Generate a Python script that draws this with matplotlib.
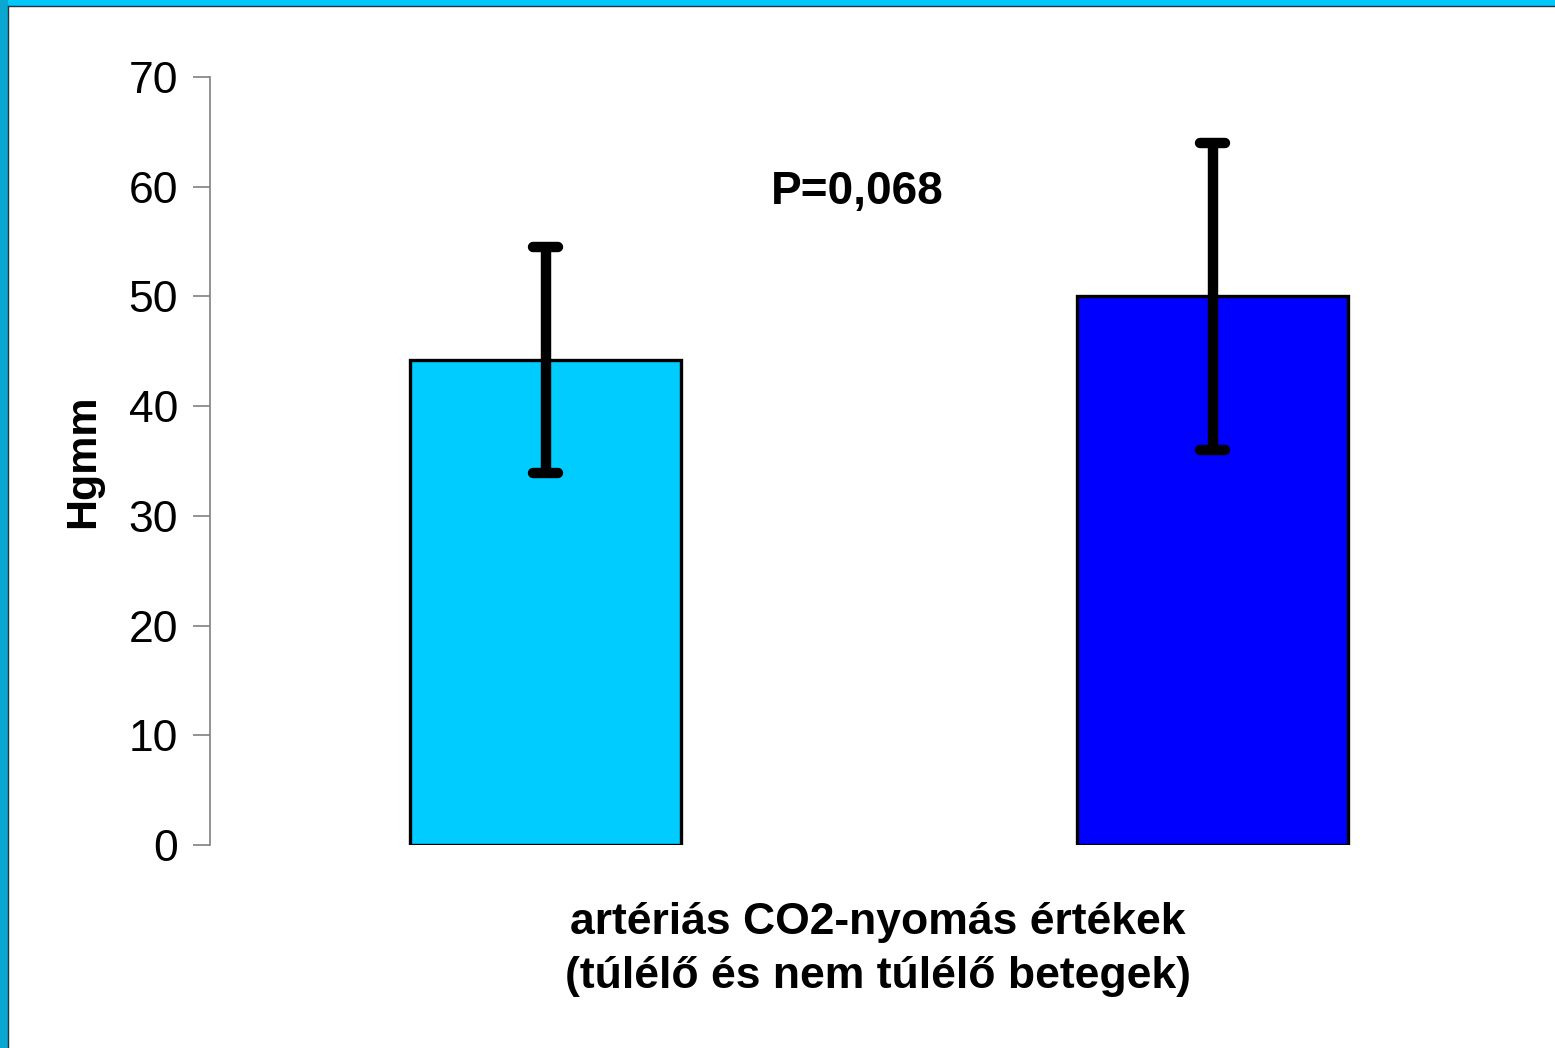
import matplotlib.pyplot as plt
import numpy as np
from matplotlib.patches import Rectangle

plt.rcParams['font.family'] = ['Liberation Sans', 'DejaVu Sans']

groups = ['túlélő', 'nem túlélő']
means = [44.2, 50.0]
errors = [10.3, 14.0]
colors = ['#00CCFF', '#0000FF']
yticks = [0, 10, 20, 30, 40, 50, 60, 70]

fig = plt.figure(figsize=(15.55, 10.48), dpi=100)
fig.patch.set_facecolor('white')

# cyan frame (top and left), like the slide background
fig.patches.append(Rectangle((0, 1 - 6 / 1048), 1, 6 / 1048, transform=fig.transFigure,
                             facecolor='#00C8F8', edgecolor='none', zorder=0))
fig.patches.append(Rectangle((0, 0), 8 / 1555, 1, transform=fig.transFigure,
                             facecolor='#0AA8D0', edgecolor='none', zorder=0))
fig.add_artist(plt.Line2D([8 / 1555, 1], [1 - 6 / 1048, 1 - 6 / 1048],
                          transform=fig.transFigure, color='#223344', lw=1))
fig.add_artist(plt.Line2D([8 / 1555, 8 / 1555], [0, 1 - 6 / 1048],
                          transform=fig.transFigure, color='#223344', lw=1))

ax = fig.add_axes([210 / 1555, 1 - 845 / 1048, (1546 - 210) / 1555, (845 - 77) / 1048])
x = np.arange(len(means))
m = np.array(means)
e = np.array(errors)
ax.bar(x, m, width=0.405, color=colors, edgecolor='black', linewidth=2.4, zorder=2)
ax.errorbar(x, m, yerr=e, fmt='none', ecolor='black', elinewidth=7.5, capsize=0, zorder=3)
# rounded caps
ax.hlines(np.r_[m + e, m - e], np.r_[x, x] - 0.018, np.r_[x, x] + 0.018,
          colors='black', linewidth=7.5, capstyle='round', zorder=3)

ax.set_xlim(-0.503, 1.5)
ax.set_ylim(0, 70)
ax.set_yticks(yticks)
ax.set_xticks([])
for s in ['top', 'right', 'bottom']:
    ax.spines[s].set_visible(False)
ax.spines['left'].set_color('#808080')
ax.spines['left'].set_linewidth(1.2)
ax.tick_params(axis='y', direction='out', length=12, width=1.2, color='#808080',
               labelsize=32, pad=11)

ax.set_ylabel('Hgmm', fontsize=31, fontweight='bold', labelpad=18)
ax.set_xlabel('artériás CO2-nyomás értékek\n(túlélő és nem túlélő betegek)',
              fontsize=32, fontweight='bold', labelpad=41, linespacing=1.4)

ax.text(0.467, 59.5, 'P=0,068', fontsize=33, fontweight='bold',
        ha='center', va='center')

fig.savefig('out.png', dpi=100)
